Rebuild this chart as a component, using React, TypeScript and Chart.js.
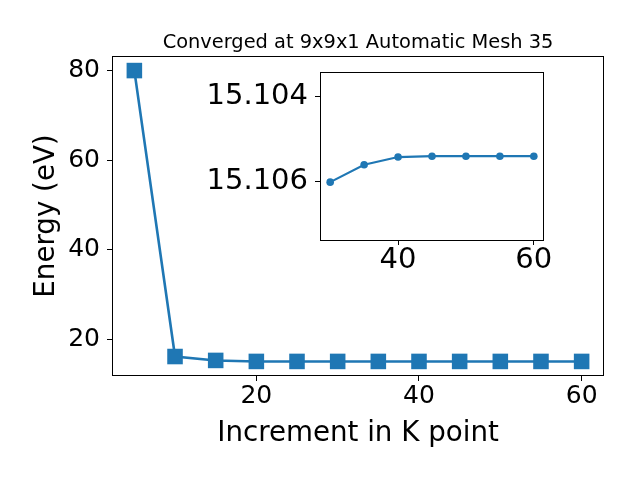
import { useEffect, useRef } from "react";
import { Chart, registerables } from "chart.js";

Chart.register(...registerables);

// ---- data ----
const kPoints = [5, 10, 15, 20, 25, 30, 35, 40, 45, 50, 55, 60];
const energies = [80, 16.2, 15.33, 15.106, 15.106, 15.106, 15.1056, 15.1054, 15.1054, 15.1054, 15.1054, 15.1054];
const insetK = [30, 35, 40, 45, 50, 55, 60];
const insetEnergies = [15.10601, 15.1056, 15.10542, 15.1054, 15.1054, 15.1054, 15.1054];
const mainXTicks = [20, 40, 60];
const mainYTicks = [20, 40, 60, 80];
const insetXTicks = [40, 60];
const insetYTicks = [15.104, 15.106];
const titleText = "Converged at 9x9x1 Automatic Mesh 35";
const xLabel = "Increment in K point";
const yLabel = "Energy (eV)";

const BLUE = "#1f77b4";
const FONT = "'DejaVu Sans', sans-serif";

const framePlugin = {
  id: "frame",
  beforeDraw(chart: any, _a: any, opts: any) {
    if (opts && opts.fillWhite) {
      const { left, top, right, bottom } = chart.chartArea;
      const ctx = chart.ctx;
      ctx.save();
      ctx.fillStyle = "#ffffff";
      ctx.fillRect(left, top, right - left, bottom - top);
      ctx.restore();
    }
  },
  afterDraw(chart: any, _a: any, opts: any) {
    const { left, top, right, bottom } = chart.chartArea;
    const ctx = chart.ctx;
    ctx.save();
    ctx.strokeStyle = "#000";
    ctx.lineWidth = 1;
    ctx.strokeRect(Math.round(left) + 0.5, Math.round(top) + 0.5, Math.round(right - left) - 1, Math.round(bottom - top) - 1);
    if (opts && opts.title) {
      ctx.fillStyle = "#000";
      ctx.font = `normal ${opts.size}px ${FONT}`;
      ctx.textAlign = "center";
      ctx.textBaseline = "alphabetic";
      ctx.fillText(opts.title, (left + right) / 2, opts.baseline);
    }
    ctx.restore();
  },
};

const setTicks = (vals: number[]) => (scale: any) => {
  scale.ticks = vals.map((v) => ({ value: v }));
};

const tickGrid = {
  display: true,
  drawOnChartArea: false,
  drawTicks: true,
  tickLength: 5,
  color: "#000",
  lineWidth: 1,
};

export default function App() {
  const mainRef = useRef<HTMLCanvasElement>(null);
  const insetRef = useRef<HTMLCanvasElement>(null);

  useEffect(() => {
    Chart.defaults.font.family = FONT;
    Chart.defaults.color = "#000";

    const main = new Chart(mainRef.current!, {
      type: "line",
      data: {
        datasets: [
          {
            data: kPoints.map((k, i) => ({ x: k, y: energies[i] })),
            borderColor: BLUE,
            backgroundColor: BLUE,
            borderWidth: 2.6,
            pointStyle: "rect",
            pointRadius: 11,
            pointHoverRadius: 11,
            pointBorderWidth: 0,
            tension: 0,
          },
        ],
      },
      options: {
        responsive: false,
        animation: false,
        events: [],
        layout: { padding: { left: 0, top: 56, right: 36, bottom: 0 } },
        plugins: {
          legend: { display: false },
          tooltip: { enabled: false },
          title: { display: false },
          frame: { title: titleText, size: 19.4, baseline: 47.5 },
        } as any,
        scales: {
          x: {
            type: "linear",
            min: 2.25,
            max: 62.75,
            afterBuildTicks: setTicks(mainXTicks),
            afterFit: (s: any) => {
              s.height = 104;
            },
            ticks: {
              font: { size: 25, lineHeight: 1 },
              color: "#000",
              padding: 3,
              maxRotation: 0,
              autoSkip: false,
              callback: (v: any) => String(v),
            },
            grid: tickGrid,
            border: { display: false },
            title: {
              display: true,
              text: xLabel,
              color: "#000",
              font: { size: 27.7 },
              padding: { top: 0, bottom: 30 },
            },
          },
          y: {
            type: "linear",
            min: 11.855,
            max: 83.25,
            afterBuildTicks: setTicks(mainYTicks),
            afterFit: (s: any) => {
              s.width = 112;
            },
            ticks: {
              font: { size: 25, lineHeight: 1 },
              color: "#000",
              padding: 7,
              autoSkip: false,
              callback: (v: any) => String(v),
            },
            grid: tickGrid,
            border: { display: false },
            title: {
              display: true,
              text: yLabel,
              color: "#000",
              font: { size: 27.7 },
              padding: { top: 30, bottom: 0 },
            },
          },
        },
      },
      plugins: [framePlugin],
    });

    const inset = new Chart(insetRef.current!, {
      type: "line",
      data: {
        datasets: [
          {
            data: insetK.map((k, i) => ({ x: k, y: insetEnergies[i] })),
            borderColor: BLUE,
            backgroundColor: BLUE,
            borderWidth: 2.2,
            pointStyle: "circle",
            pointRadius: 3.8,
            pointHoverRadius: 3.8,
            pointBorderWidth: 0,
            tension: 0,
          },
        ],
      },
      options: {
        responsive: false,
        animation: false,
        events: [],
        layout: { padding: { left: 0, top: 20, right: 16, bottom: 0 } },
        plugins: {
          legend: { display: false },
          tooltip: { enabled: false },
          title: { display: false },
          frame: { fillWhite: true },
        } as any,
        scales: {
          x: {
            type: "linear",
            min: 28.5,
            max: 61.5,
            afterBuildTicks: setTicks(insetXTicks),
            afterFit: (s: any) => {
              s.height = 55;
            },
            ticks: {
              font: { size: 29, lineHeight: 1 },
              color: "#000",
              padding: 1,
              maxRotation: 0,
              autoSkip: false,
              callback: (v: any) => String(v),
            },
            grid: tickGrid,
            border: { display: false },
          },
          y: {
            type: "linear",
            reverse: true,
            min: 15.10341,
            max: 15.10737,
            afterBuildTicks: setTicks(insetYTicks),
            afterFit: (s: any) => {
              s.width = 140;
            },
            ticks: {
              font: { size: 29, lineHeight: 1 },
              color: "#000",
              padding: 7,
              autoSkip: false,
              callback: (v: any) => Number(v).toFixed(3),
            },
            grid: tickGrid,
            border: { display: false },
          },
        },
      },
      plugins: [framePlugin],
    });

    return () => {
      main.destroy();
      inset.destroy();
    };
  }, []);

  return (
    <div style={{ position: "fixed", left: 0, top: 0, width: 640, height: 480, background: "#fff" }}>
      <canvas
        ref={mainRef}
        width={640}
        height={480}
        style={{ position: "absolute", left: 0, top: 0, width: 640, height: 480 }}
      />
      <canvas
        ref={insetRef}
        width={380}
        height={245}
        style={{ position: "absolute", left: 180, top: 50, width: 380, height: 245 }}
      />
    </div>
  );
}
